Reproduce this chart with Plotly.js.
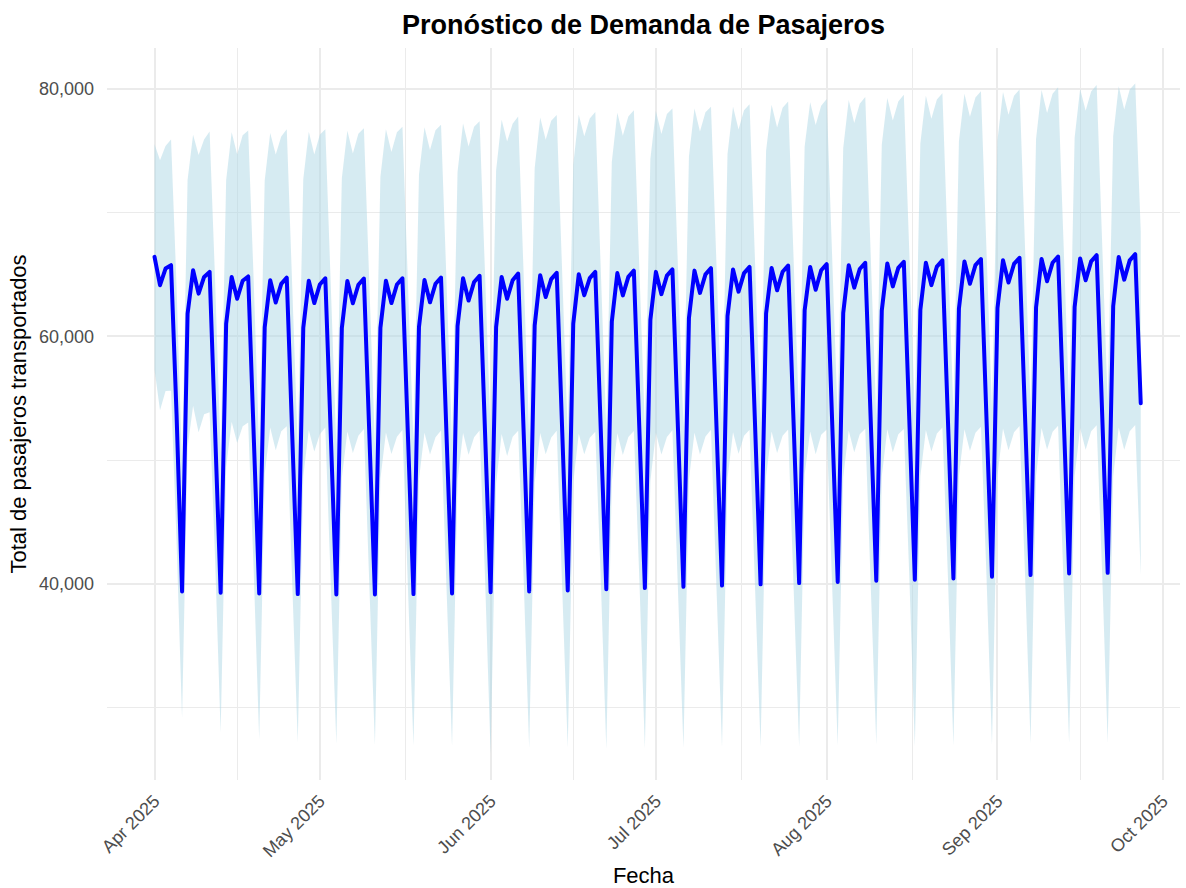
<!DOCTYPE html>
<html>
<head>
<meta charset="utf-8">
<script src="https://cdn.plot.ly/plotly-3.0.1.min.js"></script>
<style>
  html, body { margin: 0; padding: 0; background: #ffffff; }
  #chart { width: 1186px; height: 888px; }
  path.js-line { stroke-linejoin: round !important; stroke-linecap: round !important; }
</style>
</head>
<body>
<div id="chart"></div>
<script>
// Daily forecast, 2025-04-01 (Tue) .. 2025-09-27 (Sat)
const startDate = "2025-04-01";

const yhat = [
  66430, 64140, 65490, 65760, 53710, 39400,
  61840, 65350, 63460, 64810, 65215, 53170, 39300,
  61030, 64810, 63050, 64500, 64850, 52800, 39230,
  60750, 64550, 62750, 64250, 64750, 52700, 39180,
  60700, 64500, 62700, 64200, 64700, 52650, 39150,
  60680, 64480, 62680, 64180, 64680, 52630, 39150,
  60700, 64500, 62700, 64200, 64700, 52650, 39180,
  60760, 64560, 62760, 64260, 64760, 52710, 39240,
  60850, 64700, 62900, 64400, 64900, 52850, 39330,
  60760, 64810, 63050, 64540, 65080, 53030, 39400,
  60890, 64950, 63190, 64640, 65140, 53090, 39480,
  61030, 65030, 63330, 64720, 65220, 53170, 39570,
  61200, 65120, 63320, 64820, 65320, 53270, 39670,
  61350, 65220, 63420, 64920, 65420, 53370, 39770,
  61500, 65320, 63520, 65020, 65520, 53470, 39870,
  61650, 65420, 63620, 65120, 65620, 53570, 39970,
  61850, 65530, 63730, 65230, 65730, 53680, 40070,
  62110, 65620, 63780, 65350, 65840, 53790, 40160,
  61900, 65760, 63950, 65450, 65950, 53900, 40260,
  62100, 65890, 64050, 65540, 66030, 53990, 40340,
  62150, 65950, 64150, 65650, 66150, 54100, 40450,
  62250, 66060, 64260, 65760, 66260, 54210, 40580,
  62300, 66160, 64360, 65860, 66360, 54310, 40720,
  62350, 66260, 64460, 65960, 66460, 54410, 40850,
  62380, 66300, 64540, 66070, 66570, 54520, 40900,
  62450, 66430, 64590, 66150, 66650, 54600
];

const yhatLower = [
  57330, 54040, 55590, 55610, 43410, 29200,
  51040, 54400, 52260, 53710, 53870, 41920, 28000,
  49430, 53110, 51400, 52750, 53050, 41100, 27480,
  48900, 52650, 50800, 52350, 52750, 40750, 27230,
  48700, 52450, 50700, 52100, 52650, 40650, 27100,
  48580, 52330, 50580, 51980, 52530, 40530, 27000,
  48500, 52250, 50500, 51900, 52450, 40450, 26930,
  48460, 52210, 50460, 51860, 52410, 40410, 26890,
  48400, 52200, 50450, 51850, 52400, 40350, 26330,
  48110, 52110, 50350, 51890, 52380, 40380, 26750,
  48190, 52200, 50490, 51840, 52390, 40390, 26830,
  48180, 52140, 50480, 51820, 52300, 40320, 26670,
  48300, 52170, 50420, 51870, 52370, 40370, 26720,
  48350, 52220, 50470, 51870, 52420, 40370, 26770,
  48450, 52220, 50470, 51920, 52470, 40420, 26820,
  48550, 52270, 50520, 51970, 52470, 40470, 26870,
  48700, 52330, 50580, 51980, 52480, 40480, 26870,
  48860, 52320, 50480, 52050, 52490, 40490, 26960,
  48600, 52410, 50650, 52100, 52550, 40600, 27060,
  48700, 52510, 50650, 52090, 52520, 40540, 26890,
  48700, 52450, 50700, 52150, 52650, 40650, 26950,
  48750, 52510, 50760, 52210, 52710, 40710, 27030,
  48750, 52560, 50810, 52260, 52760, 40760, 27120,
  48750, 52610, 50860, 52310, 52780, 40760, 27150,
  48700, 52600, 50840, 52350, 52820, 40820, 27170,
  48700, 52650, 50840, 52350, 52850, 40700
];

const yhatUpper = [
  75530, 74240, 75390, 75910, 64010, 49600,
  72640, 76300, 74660, 75910, 76570, 64420, 50600,
  72630, 76510, 74700, 76250, 76650, 64500, 50980,
  72600, 76450, 74700, 76150, 76750, 64650, 51130,
  72700, 76550, 74700, 76300, 76750, 64650, 51200,
  72780, 76630, 74780, 76380, 76830, 64730, 51300,
  72900, 76750, 74900, 76500, 76950, 64850, 51430,
  73060, 76910, 75060, 76660, 77110, 65010, 51590,
  73300, 77200, 75350, 76950, 77400, 65350, 52330,
  73410, 77510, 75750, 77190, 77780, 65680, 52050,
  73590, 77700, 75890, 77440, 77890, 65790, 52130,
  73880, 77920, 76180, 77620, 78140, 66020, 52470,
  74100, 78070, 76220, 77770, 78270, 66170, 52620,
  74350, 78220, 76370, 77970, 78420, 66370, 52770,
  74550, 78420, 76570, 78120, 78570, 66520, 52920,
  74750, 78570, 76720, 78270, 78770, 66670, 53070,
  75000, 78730, 76880, 78480, 78980, 66880, 53270,
  75360, 78920, 77080, 78650, 79190, 67090, 53360,
  75200, 79110, 77250, 78800, 79350, 67200, 53460,
  75500, 79270, 77450, 78990, 79540, 67440, 53790,
  75600, 79450, 77600, 79150, 79650, 67550, 53950,
  75750, 79610, 77760, 79310, 79810, 67710, 54130,
  75850, 79760, 77910, 79460, 79960, 67860, 54320,
  75950, 79910, 78060, 79610, 80140, 68060, 54550,
  76060, 80000, 78240, 79790, 80320, 68220, 54630,
  76200, 80210, 78340, 79950, 80450, 68500
];

const titleText = "Pronóstico de Demanda de Pasajeros";
const xTitle = "Fecha";
const yTitle = "Total de pasajeros transportados";
const yTickVals = [40000, 60000, 80000];
const yMinorVals = [30000, 50000, 70000];
const xMinorVals = ["2025-04-16", "2025-05-16 12:00", "2025-06-16", "2025-07-16 12:00", "2025-08-16 12:00", "2025-09-16"];

// consecutive daily dates
const dates = [];
{
  const d0 = new Date(startDate + "T00:00:00Z");
  for (let i = 0; i < yhat.length; i++) {
    const d = new Date(d0.getTime() + i * 86400000);
    dates.push(d.toISOString().slice(0, 10));
  }
}

const band = "rgba(173,216,230,0.5)";
const traces = [
  { x: dates, y: yhatLower, type: "scatter", mode: "lines", line: { width: 0, color: band }, hoverinfo: "skip", showlegend: false },
  { x: dates, y: yhatUpper, type: "scatter", mode: "lines", line: { width: 0, color: band }, fill: "tonexty", fillcolor: band, hoverinfo: "skip", showlegend: false },
  { x: dates, y: yhat, type: "scatter", mode: "lines", line: { width: 4, color: "#0000FF" }, showlegend: false }
];

const font = "Liberation Sans, Arial, Helvetica, sans-serif";
const layout = {
  width: 1186, height: 888,
  margin: { l: 107, r: 6, t: 48, b: 108 },
  paper_bgcolor: "#ffffff", plot_bgcolor: "#ffffff",
  font: { family: font, color: "#000000" },
  showlegend: false,
  title: { text: "<b>" + titleText + "</b>", font: { family: font, size: 27, color: "#000000" }, x: 0.5, xref: "paper", xanchor: "center", y: 1 - 25 / 888, yref: "container", yanchor: "middle" },
  xaxis: {
    type: "date",
    range: ["2025-03-23 09:00", "2025-10-04 03:00"],
    tick0: "2025-04-01", dtick: "M1", tickformat: "%b %Y",
    tickangle: -45,
    tickfont: { family: font, size: 18, color: "#4D4D4D" },
    showgrid: true, gridcolor: "#EBEBEB", gridwidth: 2,
    minor: { tickmode: "array", tickvals: xMinorVals, showgrid: true, gridcolor: "#EBEBEB", gridwidth: 1, ticks: "" },
    zeroline: false, showline: false, ticks: "",
    ticklabelstandoff: 6,
    title: { text: xTitle, font: { family: font, size: 22, color: "#000000" }, standoff: 8 }
  },
  yaxis: {
    range: [24160, 83310],
    tickmode: "array", tickvals: yTickVals, tickformat: ",",
    tickfont: { family: font, size: 18, color: "#4D4D4D" },
    showgrid: true, gridcolor: "#EBEBEB", gridwidth: 2,
    minor: { tickmode: "array", tickvals: yMinorVals, showgrid: true, gridcolor: "#EBEBEB", gridwidth: 1, ticks: "" },
    zeroline: false, showline: false, ticks: "",
    ticklabelstandoff: 12,
    title: { text: yTitle, font: { family: font, size: 22, color: "#000000" }, standoff: 6 }
  }
};

Plotly.newPlot("chart", traces, layout, { staticPlot: true, displayModeBar: false });
</script>
</body>
</html>
